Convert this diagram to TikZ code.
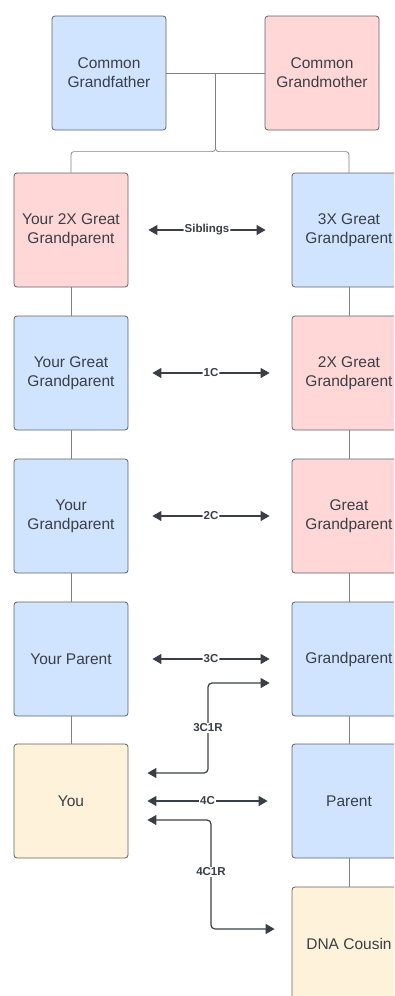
\documentclass[tikz,border=0pt]{standalone}
\usepackage{fontspec}
\setmainfont{Liberation Sans}
\usetikzlibrary{positioning,arrows.meta,calc}
\definecolor{boxblue}{HTML}{D0E3FF}
\definecolor{boxpink}{HTML}{FFD7D7}
\definecolor{boxgold}{HTML}{FFF2DA}
\definecolor{edge}{HTML}{606266}
\definecolor{ink}{HTML}{3A3F47}
\begin{document}
\begin{tikzpicture}[
        x=1pt, y=-1pt,
        person/.style={rectangle, rounded corners=3pt, draw=edge, line width=0.8pt,
            minimum width=114pt, minimum height=114pt, inner sep=0pt, align=center,
            text=ink, font=\fontsize{15.5}{19}\selectfont},
        male/.style={person, fill=boxblue},
        female/.style={person, fill=boxpink},
        self/.style={person, fill=boxgold},
        tree/.style={-, draw=edge!80, line width=0.7pt, rounded corners=3pt},
        rel/.style={{Triangle[length=9pt,width=10pt]}-{Triangle[length=9pt,width=10pt]},
            draw=ink, line width=1.2pt, rounded corners=4pt},
        tag/.style={fill=white, text=ink, inner sep=1pt,
            font=\fontsize{11.5}{14}\selectfont\bfseries}
    ]
        \useasboundingbox (0,0) rectangle (394,996);
        \clip (0,0) rectangle (394,996);

        % Common ancestors
        \node[male] (gf) at (109,73) {Common\\Grandfather};
        \node[female] (gm) at (322,73) {Common\\Grandmother};

        % Your line
        \node[female] (l1) at (71,230) {Your 2X Great\\Grandparent};
        \node[male] (l2) at (71,373) {Your Great\\Grandparent};
        \node[male] (l3) at (71,516) {Your\\Grandparent};
        \node[male] (l4) at (71,659) {Your Parent};
        \node[self] (you) at (71,801) {You};

        % Cousin line
        \node[male] (r1) at (349,230) {3X Great\\Grandparent};
        \node[female] (r2) at (349,373) {2X Great\\Grandparent};
        \node[female] (r3) at (349,516) {Great\\Grandparent};
        \node[male] (r4) at (349,659) {Grandparent};
        \node[male] (r5) at (349,801) {Parent};
        \node[self] (dna) at (349,944) {DNA Cousin};

        % Tree lines
        \draw[tree] (gf) -- (gm);
        \coordinate (fork) at ($(gf.east)!.5!(gm.west)$);
        \draw[tree] (fork) |- ([yshift=21pt]l1.north) -- (l1.north);
        \draw[tree] (fork) |- ([yshift=21pt]r1.north) -- (r1.north);
        \foreach \a/\b in {l1/l2,l2/l3,l3/l4,l4/you,r1/r2,r2/r3,r3/r4,r4/r5,r5/dna}
            \draw[tree] (\a) -- (\b);

        % Relationships
        \draw[rel] ([xshift=20pt]l1.east) -- node[tag] {Siblings} ([xshift=-26pt]r1.west);
        \draw[rel] ([xshift=24pt]l2.east) -- node[tag] {1C} ([xshift=-22pt]r2.west);
        \draw[rel] ([xshift=24pt]l3.east) -- node[tag] {2C} ([xshift=-22pt]r3.west);
        \draw[rel] ([xshift=24pt]l4.east) -- node[tag] {3C} ([xshift=-22pt]r4.west);
        \draw[rel] ([xshift=19pt]you.east) -- node[tag] {4C} ([xshift=-24pt]r5.west);

        \coordinate (k3) at (208,728);
        \draw[rel] ([xshift=-22pt,yshift=-24pt]r4.west) -| (k3) |- ([xshift=19pt,yshift=28pt]you.east);
        \node[tag] at (k3) {3C1R};

        \coordinate (k4) at (211,872);
        \draw[rel] ([xshift=19pt,yshift=-19pt]you.east) -| (k4) |- ([xshift=-17pt,yshift=15pt]dna.west);
        \node[tag] at (k4) {4C1R};
    \end{tikzpicture}
\end{document}
